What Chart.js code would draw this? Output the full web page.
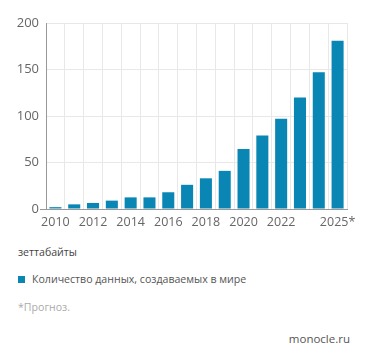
<!DOCTYPE html>
<html>
<head>
<meta charset="utf-8">
<script src="https://cdn.jsdelivr.net/npm/chart.js@4/dist/chart.umd.min.js"></script>
<style>
  html, body { margin: 0; padding: 0; background: #fff; }
  body { width: 371px; height: 357px; position: relative; overflow: hidden; font-family: "Open Sans", sans-serif; }
  #wrap { position: absolute; left: 0; top: 0; width: 371px; height: 236px; }
  .t { position: absolute; white-space: nowrap; font-size: 10.6px; }
  #unit { left: 18px; top: 245px; color: #444; }
  #leg { left: 18px; top: 272px; color: #555; }
  #leg i { display: inline-block; width: 7px; height: 7px; background: #0a86b5; margin-right: 7px; vertical-align: 0px; }
  #note { left: 18px; top: 300px; color: #aaa; }
  #src { right: 21px; top: 331px; color: #555; font-size: 11.5px; }
</style>
</head>
<body>
<div id="wrap"><canvas id="c"></canvas></div>
<div class="t" id="unit">зеттабайты</div>
<div class="t" id="leg"><i></i>Количество данных, создаваемых в мире</div>
<div class="t" id="note">*Прогноз.</div>
<div class="t" id="src">monocle.ru</div>
<script>
const categories = ["2010","2011","2012","2013","2014","2015","2016","2017","2018","2019","2020","2021","2022","2023","2024","2025*"];
const values = [2, 5, 6.5, 9, 12.5, 12.5, 18, 26, 33, 41, 64.5, 79, 97, 120, 147, 181];
const xTickLabels = ["2010","","2012","","2014","","2016","","2018","","2020","","2022","","","2025*"];
const yTicks = [0, 50, 100, 150, 200];
const seriesName = "Количество данных, создаваемых в мире";

new Chart(document.getElementById('c'), {
  type: 'bar',
  data: {
    labels: categories,
    datasets: [{
      label: seriesName,
      data: values,
      backgroundColor: '#0a86b5',
      barPercentage: 0.64,
      categoryPercentage: 1
    }]
  },
  options: {
    responsive: true,
    maintainAspectRatio: false,
    animation: false,
    layout: { padding: { top: 23, right: 24, left: 0, bottom: 0 } },
    plugins: { legend: { display: false }, tooltip: { enabled: false } },
    scales: {
      x: {
        grid: { color: '#e8e8e8', offset: true, drawTicks: false },
        border: { color: '#999' },
        ticks: {
          autoSkip: false, maxRotation: 0, padding: 6,
          color: '#666', font: { family: 'Open Sans', size: 12.5 },
          callback: (v, i) => xTickLabels[i]
        },
        afterFit: s => { s.height = 27; }
      },
      y: {
        min: 0, max: 200,
        afterBuildTicks: s => { s.ticks = yTicks.map(v => ({ value: v })); },
        grid: {
          color: '#e8e8e8', tickLength: 6,
          tickColor: c => (c.tick && c.tick.value === 0) ? '#999' : 'rgba(0,0,0,0)'
        },
        border: { color: '#999' },
        ticks: { color: '#666', padding: 1, font: { family: 'Open Sans', size: 13 } },
        afterFit: s => { s.width = 46; }
      }
    }
  }
});
</script>
</body>
</html>
